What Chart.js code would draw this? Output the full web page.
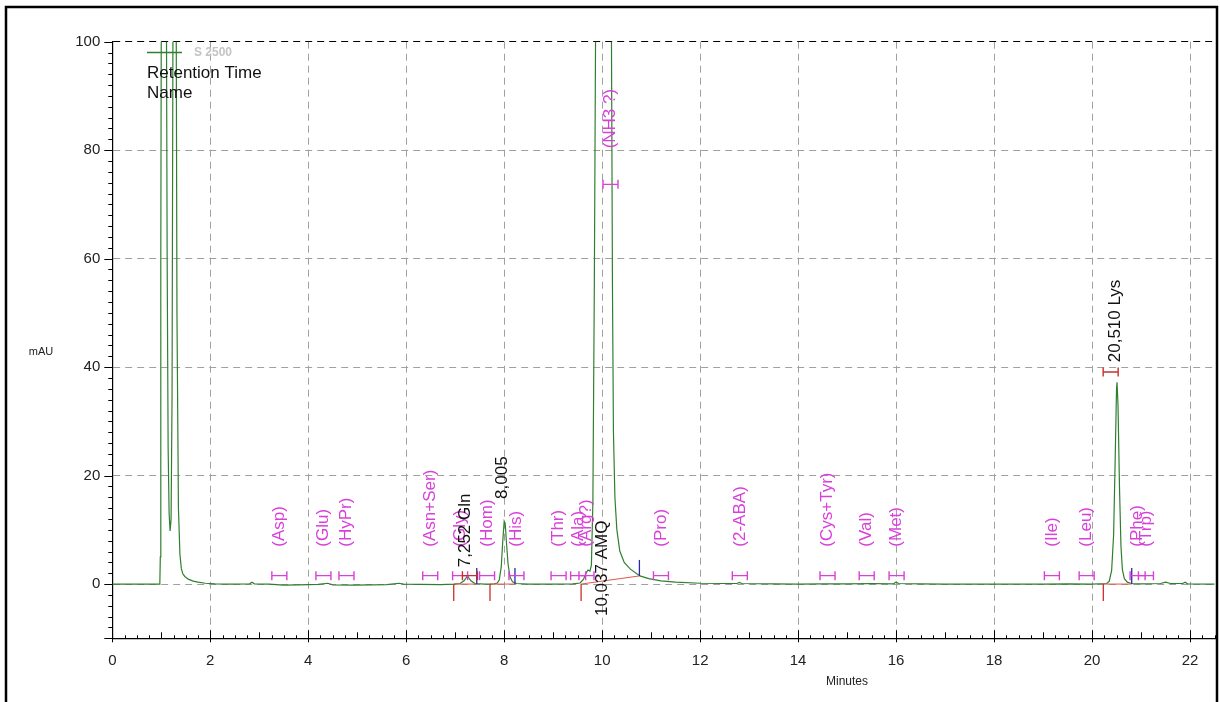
<!DOCTYPE html>
<html>
<head>
<meta charset="utf-8">
<title>S 2500 chromatogram</title>
<script src="https://cdn.jsdelivr.net/npm/chart.js@4/dist/chart.umd.min.js"></script>
<style>
  html, body { margin: 0; padding: 0; background: #fff; }
  #wrap { width: 1220px; height: 702px; position: relative; }
</style>
</head>
<body>
<div id="wrap"><canvas id="chrom" width="1220" height="702"></canvas></div>
<script>
// Detector trace: retention time (min) and absorbance (mAU)
const traceTime = [
  0, 0.5, 0.97, 0.98, 0.99, 1.01, 1.05, 1.09, 1.12, 1.14, 1.16, 1.18, 1.2, 1.22,
  1.24, 1.27, 1.3, 1.32, 1.35, 1.38, 1.41, 1.44, 1.48, 1.55, 1.65, 1.75, 1.9, 2.1,
  2.4, 2.8, 2.85, 2.9, 3.2, 3.5, 3.8, 4.0, 4.2, 4.4, 4.5, 4.9, 5.3, 5.6, 5.85, 5.95,
  6.3, 6.7, 6.97, 7.1, 7.18, 7.25, 7.32, 7.4, 7.6, 7.8, 7.86, 7.9, 7.94, 7.97,
  8.0, 8.02, 8.05, 8.08, 8.12, 8.17, 8.25, 8.5, 9.0, 9.4, 9.55, 9.62, 9.67, 9.71,
  9.75, 9.78, 9.81, 9.84, 9.87, 9.92, 10.0, 10.08, 10.15, 10.19, 10.21, 10.23, 10.26, 10.3,
  10.36, 10.45, 10.57, 10.77, 10.95, 11.2, 11.5, 12.0, 12.5, 12.75, 12.8, 12.85, 13.5, 14.0,
  14.5, 15.0, 15.5, 15.95, 16.0, 16.05, 16.5, 17.0, 18.0, 19.0, 19.5, 20.0, 20.3, 20.35,
  20.4, 20.44, 20.47, 20.5, 20.51, 20.53, 20.56, 20.59, 20.62, 20.66, 20.72, 20.8, 21.0, 21.4,
  21.5, 21.6, 21.85, 21.9, 21.95, 22.5
];
const traceSignal = [
  0, 0, 0, 5, 60, 150, 190, 150, 60, 25, 13, 9.8, 12, 35,
  110, 170, 120, 50, 14, 5.5, 2.8, 1.9, 1.4, 0.9, 0.55, 0.35, 0.15, 0.05,
  0, 0.05, 0.35, 0.05, 0, -0.2, -0.15, -0.1, -0.05, 0.15, -0.15, -0.2, -0.15, -0.1, 0.15, 0,
  -0.05, -0.1, 0, 0.1, 0.6, 1.5, 0.6, 0.1, 0, 0.05, 0.2, 0.8, 3.2, 7.8,
  11.6, 11.2, 7.2, 3.6, 1.3, 0.4, 0.1, 0, 0, 0.05, 0.2, 0.9, 2.0, 2.6,
  2.4, 3.5, 15, 55, 110, 190, 240, 220, 150, 100, 55, 28, 16, 10,
  6.1, 4.0, 2.8, 1.5, 1.0, 0.6, 0.35, 0.15, 0.1, 0.1, 0.3, 0.1, 0.05, 0,
  0.05, 0.05, 0.1, 0.05, 0.4, 0.1, 0.05, 0, 0, 0, 0.05, 0, 0.1, 0.5,
  2.5, 9, 22, 36, 37.2, 33, 18, 7, 2.6, 1.0, 0.35, 0.1, 0.05, 0.1,
  0.35, 0.1, 0.1, 0.35, 0.05, 0
];

// Expected-component retention windows
const windowNames = ['(Asp)', '(Glu)', '(HyPr)', '(Asn+Ser)', '(Gly)', '(Hom)', '(His)', '(Thr)', '(Ala)', '(Arg?)',
  '(NH3 ?)', '(Pro)', '(2-ABA)', '(Cys+Tyr)', '(Val)', '(Met)', '(Ile)', '(Leu)', '(Phe)', '(Trp)'];
const windowTimes = [3.41, 4.31, 4.78, 6.49, 7.10, 7.65, 8.25, 9.11, 9.51, 9.68,
  10.17, 11.2, 12.81, 14.6, 15.40, 16.01, 19.18, 19.89, 20.93, 21.10];
const windowLevels = [1.55, 1.55, 1.55, 1.55, 1.55, 1.55, 1.55, 1.55, 1.55, 1.55,
  73.7, 1.55, 1.55, 1.55, 1.55, 1.55, 1.55, 1.55, 1.55, 1.55];

// Integrated peaks
const peakTimes = [7.252, 8.005, 10.037, 20.510];
const peakLabels = ['7,252 Gln', '8,005', '10,037 AMQ', '20,510 Lys'];
const peakStarts = [6.97, 7.71, 9.57, 20.23];
const peakEnds = [7.44, 8.22, 10.76, 20.81];
const peakEndLevels = [0, 0, 1.5, 0];
const foundWindowTimes = [7.30, 20.38];
const foundWindowLevels = [1.55, 39.1];

// Axis ticks
const xTicks = [0, 2, 4, 6, 8, 10, 12, 14, 16, 18, 20, 22];
const yTicks = [0, 20, 40, 60, 80, 100];

const FONT = "'Liberation Sans', Arial, Helvetica, sans-serif";
const MAGENTA = '#d93fd9';
const TRACE = '#2f7f2f';

const tracePoints = traceTime.map((t, i) => ({ x: t, y: traceSignal[i] }));

const decor = {
  id: 'decor',
  beforeDraw(chart) {
    const { ctx } = chart;
    ctx.save();
    ctx.fillStyle = '#fff';
    ctx.fillRect(0, 0, chart.width, chart.height);
    ctx.restore();
  },
  afterDatasetsDraw(chart, args, opts) {
    const { ctx, scales: { x, y } } = chart;
    ctx.save();

    const bracket = (t, v, color) => {
      const px = x.getPixelForValue(t), py = y.getPixelForValue(v);
      ctx.strokeStyle = color;
      ctx.lineWidth = 1.4;
      ctx.beginPath();
      ctx.moveTo(px - 7.5, py); ctx.lineTo(px + 7.5, py);
      ctx.moveTo(px - 7.5, py - 4.5); ctx.lineTo(px - 7.5, py + 4.5);
      ctx.moveTo(px + 7.5, py - 4.5); ctx.lineTo(px + 7.5, py + 4.5);
      ctx.stroke();
    };
    const vtext = (text, px, pyStart, color) => {
      ctx.save();
      ctx.translate(px, pyStart);
      ctx.rotate(-Math.PI / 2);
      ctx.fillStyle = color;
      ctx.font = '17px ' + FONT;
      ctx.textAlign = 'left';
      ctx.textBaseline = 'middle';
      ctx.fillText(text, 0, 0);
      ctx.restore();
    };

    // integration baselines and start / end ticks
    peakStarts.forEach((s, i) => {
      const x0 = x.getPixelForValue(s), x1 = x.getPixelForValue(peakEnds[i]);
      const y0 = y.getPixelForValue(0), y1 = y.getPixelForValue(peakEndLevels[i]);
      ctx.strokeStyle = '#e0584a';
      ctx.lineWidth = 1;
      ctx.beginPath(); ctx.moveTo(x0, y0); ctx.lineTo(x1, y1); ctx.stroke();
      ctx.strokeStyle = '#c8302a';
      ctx.lineWidth = 1.3;
      ctx.beginPath(); ctx.moveTo(x0, y0); ctx.lineTo(x0, y0 + 17); ctx.stroke();
      ctx.strokeStyle = '#2a2aa8';
      ctx.beginPath(); ctx.moveTo(x1, y1); ctx.lineTo(x1, y1 - 16); ctx.stroke();
    });

    // expected windows with names
    windowTimes.forEach((t, i) => {
      bracket(t, windowLevels[i], MAGENTA);
      const px = x.getPixelForValue(t);
      const py = y.getPixelForValue(windowLevels[i]);
      vtext(windowNames[i], px, py - (i === 10 ? 36 : 29), MAGENTA);
    });

    // windows of identified peaks
    foundWindowTimes.forEach((t, i) => bracket(t, foundWindowLevels[i], '#c8302a'));

    // retention time / name labels
    peakTimes.forEach((t, i) => {
      vtext(peakLabels[i], x.getPixelForValue(t) - 2, y.getPixelForValue(opts.labelBase[i]), '#111');
    });

    ctx.restore();
  },
  afterDraw(chart) {
    const { ctx, scales: { x, y } } = chart;
    const area = chart.chartArea;
    ctx.save();
    ctx.strokeStyle = '#000';
    ctx.lineWidth = 1;

    // x axis tick marks
    for (let k = 0; k * 0.25 <= x.max + 1e-9; k++) {
      const v = k * 0.25;
      const px = Math.round(x.getPixelForValue(v)) + 0.5;
      let up = 3, down = 0;
      if (k % 8 === 0) { up = 8; down = 4; }
      else if (k % 4 === 0) { up = 6; }
      ctx.beginPath();
      ctx.moveTo(px, area.bottom - up);
      ctx.lineTo(px, area.bottom + down);
      ctx.stroke();
    }
    // y axis tick marks
    for (let v = -10; v <= 100 + 1e-9; v += 2) {
      const py = Math.round(y.getPixelForValue(v)) + 0.5;
      const len = (v % 20 === 0 || v === -10) ? 8 : 4;
      ctx.beginPath();
      ctx.moveTo(area.left - len, py);
      ctx.lineTo(area.left, py);
      ctx.stroke();
    }

    // axis titles
    ctx.fillStyle = '#222';
    ctx.textAlign = 'center';
    ctx.textBaseline = 'middle';
    ctx.font = '12px ' + FONT;
    ctx.fillText('Minutes', 847, 682);
    ctx.font = '11px ' + FONT;
    ctx.fillText('mAU', 41, 352);

    // legend block
    ctx.strokeStyle = TRACE;
    ctx.lineWidth = 1.3;
    ctx.beginPath(); ctx.moveTo(147, 52.5); ctx.lineTo(182, 52.5); ctx.stroke();
    ctx.textAlign = 'left';
    ctx.fillStyle = '#c4c4c4';
    ctx.font = 'bold 12px ' + FONT;
    ctx.fillText('S 2500', 194, 53);
    ctx.fillStyle = '#111';
    ctx.font = '17px ' + FONT;
    ctx.fillText('Retention Time', 147, 73);
    ctx.fillText('Name', 147, 93);

    // page frame
    ctx.strokeStyle = '#000';
    ctx.lineWidth = 2.5;
    ctx.beginPath();
    ctx.moveTo(6, 705); ctx.lineTo(6, 7); ctx.lineTo(1217, 7); ctx.lineTo(1217, 705);
    ctx.stroke();
    ctx.restore();
  }
};

new Chart(document.getElementById('chrom'), {
  type: 'line',
  data: {
    datasets: [{
      label: 'S 2500',
      data: tracePoints,
      borderColor: TRACE,
      borderWidth: 1.2,
      pointRadius: 0,
      tension: 0,
      fill: false
    }]
  },
  options: {
    responsive: false,
    animation: false,
    devicePixelRatio: 1,
    layout: { padding: { top: 41.7, right: 5, left: 0, bottom: 0 } },
    plugins: {
      legend: { display: false },
      tooltip: { enabled: false },
      decor: { labelBase: [3.1, 15.7, -5.9, 40.9] }
    },
    scales: {
      x: {
        type: 'linear',
        min: 0,
        max: 22.51,
        afterFit: s => { s.height = 702 - 638.3; },
        afterBuildTicks: s => { s.ticks = xTicks.map(v => ({ value: v })); },
        grid: {
          drawTicks: false,
          color: c => (c.tick && c.tick.value === 0) ? 'rgba(0,0,0,0)' : '#a0a0a0',
          lineWidth: 1
        },
        border: { display: true, color: '#000', width: 1.2, dash: [7, 5] },
        ticks: {
          padding: 14,
          color: '#222',
          font: { family: FONT, size: 15 },
          maxRotation: 0,
          callback: v => String(v)
        }
      },
      y: {
        type: 'linear',
        min: -10,
        max: 100,
        afterFit: s => { s.width = 112.3; },
        afterBuildTicks: s => { s.ticks = yTicks.map(v => ({ value: v })); },
        grid: {
          drawTicks: false,
          color: c => (c.tick && c.tick.value === 100) ? '#000' : '#a0a0a0',
          lineWidth: 1
        },
        border: { display: true, color: '#000', width: 1.2, dash: [7, 5] },
        ticks: {
          padding: 12,
          color: '#222',
          font: { family: FONT, size: 15 },
          callback: v => String(v)
        }
      }
    }
  },
  plugins: [decor]
});
</script>
</body>
</html>
